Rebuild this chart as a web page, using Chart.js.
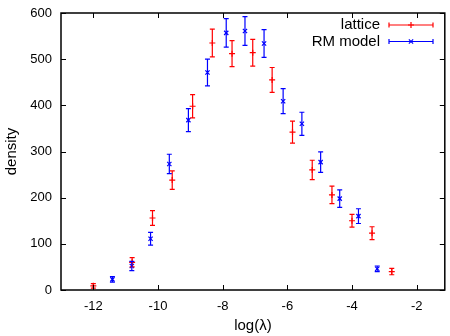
<!DOCTYPE html>
<html>
<head>
<meta charset="utf-8">
<script src="https://cdn.jsdelivr.net/npm/chart.js@4.4.1/dist/chart.umd.min.js"></script>
<style>
  html, body { margin: 0; padding: 0; background: #fff; }
  #wrap { width: 450px; height: 336px; }
</style>
</head>
<body>
<div id="wrap"><canvas id="myChart"></canvas></div>
<script>
// lattice data (red +)
const latticeX = [ -12.0, -10.8, -10.17, -9.56, -8.93, -8.32, -7.71, -7.07, -6.47, -5.84, -5.23, -4.62, -4.0, -3.38, -2.77 ]
const latticeY = [ 9, 60, 156, 238, 398, 535, 512, 514, 455, 342, 260, 206, 150, 123, 40 ]
const latticeErr = [ 5, 10, 16, 20, 25, 30, 28, 29, 27, 24, 21, 19, 14, 14, 7 ]

// RM model data (blue x)
const rmX = [ -11.41, -10.81, -10.23, -9.65, -9.06, -8.47, -7.89, -7.31, -6.72, -6.13, -5.55, -4.97, -4.38, -3.80, -3.22 ]
const rmY = [ 23, 52, 111, 273, 368, 471, 557, 561, 534, 409, 360, 277, 198, 160, 46 ]
const rmErr = [ 6, 10, 14, 21, 25, 29, 31, 31, 30, 27, 25, 22, 19, 16, 6 ]

const xTicks = [ -12, -10, -8, -6, -4, -2 ]
const yTicks = [ 0, 100, 200, 300, 400, 500, 600 ]

const toPoints = ( xs, ys, errs ) => xs.map( ( x, i ) => ( { x: x, y: ys[i], err: errs[i] } ) )

// error bars, box, inward ticks and legend
const gnuplotLook = {
  id: 'gnuplotLook',
  afterDatasetsDraw ( chart ) {
    const ctx = chart.ctx
    const xs = chart.scales.x
    const ys = chart.scales.y
    const area = chart.chartArea

    ctx.save()
    // error bars
    chart.data.datasets.forEach( ( ds, di ) => {
      const meta = chart.getDatasetMeta( di )
      ctx.strokeStyle = ds.borderColor
      ctx.lineWidth = 1.2
      ds.data.forEach( ( p, i ) => {
        const px = meta.data[i].x
        const top = ys.getPixelForValue( p.y + p.err )
        const bot = ys.getPixelForValue( p.y - p.err )
        ctx.beginPath()
        ctx.moveTo( px, top )
        ctx.lineTo( px, bot )
        ctx.moveTo( px - 2.5, top )
        ctx.lineTo( px + 2.5, top )
        ctx.moveTo( px - 2.5, bot )
        ctx.lineTo( px + 2.5, bot )
        ctx.stroke()
      } )
    } )

    // box
    ctx.strokeStyle = '#000'
    ctx.lineWidth = 1.5
    ctx.strokeRect( area.left, area.top, area.right - area.left, area.bottom - area.top )

    // inward ticks
    ctx.lineWidth = 1
    ctx.beginPath()
    xTicks.forEach( ( t ) => {
      const px = Math.round( xs.getPixelForValue( t ) ) + 0.5
      ctx.moveTo( px, area.bottom )
      ctx.lineTo( px, area.bottom - 5 )
      ctx.moveTo( px, area.top )
      ctx.lineTo( px, area.top + 5 )
    } )
    yTicks.forEach( ( t ) => {
      const py = Math.round( ys.getPixelForValue( t ) ) + 0.5
      ctx.moveTo( area.left, py )
      ctx.lineTo( area.left + 5, py )
      ctx.moveTo( area.right, py )
      ctx.lineTo( area.right - 5, py )
    } )
    ctx.stroke()

    // legend
    ctx.font = '15px "Liberation Sans", Arial, sans-serif'
    ctx.textAlign = 'right'
    ctx.textBaseline = 'middle'
    chart.data.datasets.forEach( ( ds, di ) => {
      const ly = 25 + di * 16.5
      ctx.fillStyle = '#000'
      ctx.fillText( ds.label, 380, ly )
      ctx.strokeStyle = ds.borderColor
      ctx.lineWidth = 1.2
      ctx.beginPath()
      ctx.moveTo( 389, ly )
      ctx.lineTo( 433, ly )
      ctx.moveTo( 389, ly - 2.5 )
      ctx.lineTo( 389, ly + 2.5 )
      ctx.moveTo( 433, ly - 2.5 )
      ctx.lineTo( 433, ly + 2.5 )
      ctx.stroke()
      Chart.helpers.drawPoint( ctx, { pointStyle: ds.pointStyle, radius: 3, borderWidth: 1.2 }, 411, ly )
    } )
    ctx.restore()
  }
}

const config = {
  type: 'scatter',
  data: {
    datasets: [
      {
        label: 'lattice',
        data: toPoints( latticeX, latticeY, latticeErr ),
        borderColor: '#ff0000',
        backgroundColor: '#ff0000',
        pointStyle: 'cross',
        pointRadius: 3,
        pointBorderWidth: 1.2
      },
      {
        label: 'RM model',
        data: toPoints( rmX, rmY, rmErr ),
        borderColor: '#0000ff',
        backgroundColor: '#0000ff',
        pointStyle: 'crossRot',
        pointRadius: 3,
        pointBorderWidth: 1.2
      }
    ]
  },
  options: {
    responsive: false,
    animation: false,
    events: [],
    layout: { padding: { top: 13, right: 2, left: 0, bottom: 0 } },
    plugins: {
      legend: { display: false },
      tooltip: { enabled: false }
    },
    scales: {
      x: {
        type: 'linear',
        min: -13,
        max: -1.13,
        afterBuildTicks: ( scale ) => { scale.ticks = xTicks.map( ( v ) => ( { value: v } ) ) },
        afterFit: ( scale ) => {
          scale.height = 46
          scale.paddingLeft = 0
          scale.paddingRight = 0
        },
        grid: { display: false, drawTicks: false },
        border: { display: false },
        ticks: {
          color: '#000',
          padding: 9,
          maxRotation: 0,
          font: { family: '"Liberation Sans", Arial, sans-serif', size: 13 }
        },
        title: {
          display: true,
          text: 'log(λ)',
          color: '#000',
          padding: { top: 0, bottom: 1 },
          font: { family: '"Liberation Sans", Arial, sans-serif', size: 15 }
        }
      },
      y: {
        min: 0,
        max: 600,
        afterBuildTicks: ( scale ) => { scale.ticks = yTicks.map( ( v ) => ( { value: v } ) ) },
        afterFit: ( scale ) => {
          scale.width = 61
          scale.paddingTop = 0
          scale.paddingBottom = 0
        },
        grid: { display: false, drawTicks: false },
        border: { display: false },
        ticks: {
          color: '#000',
          padding: 9,
          font: { family: '"Liberation Sans", Arial, sans-serif', size: 13 }
        },
        title: {
          display: true,
          text: 'density',
          color: '#000',
          padding: { top: 3, bottom: 0 },
          font: { family: '"Liberation Sans", Arial, sans-serif', size: 15 }
        }
      }
    }
  },
  plugins: [ gnuplotLook ]
}

const canvas = document.getElementById( 'myChart' )
canvas.width = 450
canvas.height = 336
new Chart( canvas, config )
</script>
</body>
</html>
